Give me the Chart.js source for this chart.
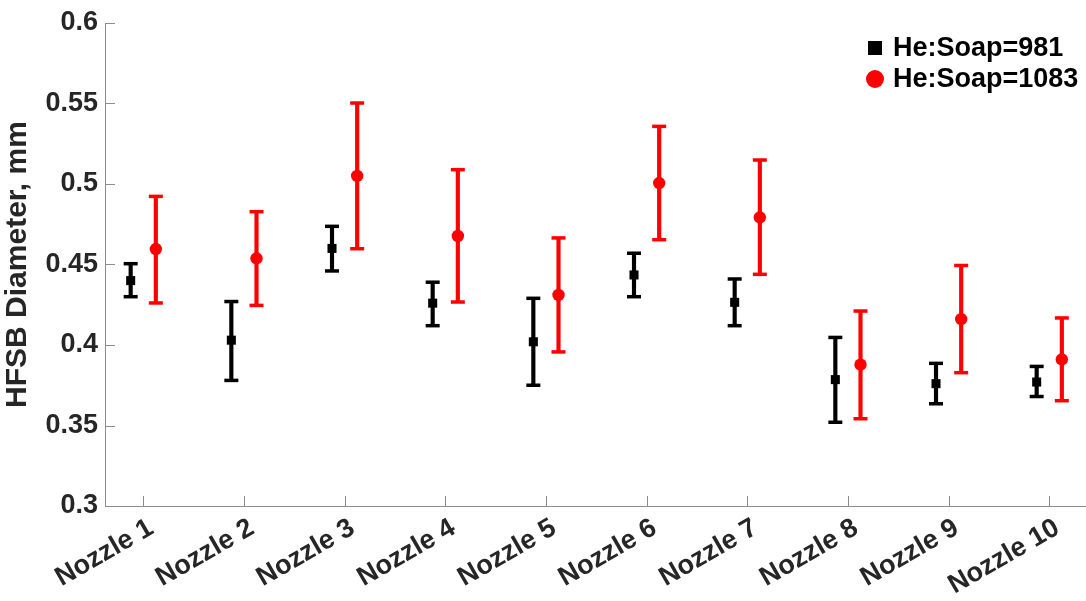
<!DOCTYPE html>
<html>
<head>
<meta charset="utf-8">
<title>HFSB Diameter</title>
<script src="https://cdn.jsdelivr.net/npm/chart.js@4.4.1/dist/chart.umd.min.js"></script>
<style>
  html, body {
    margin: 0;
    padding: 0;
    background: #ffffff;
  }

  .chart-wrap {
    position: relative;
    width: 1086px;
    height: 601px;
  }

  .legend {
    position: absolute;
    left: 863px;
    top: 32px;
    font-family: "Liberation Sans", Arial, sans-serif;
    font-weight: bold;
    font-size: 27px;
    color: #000000;
  }

  .legend-row {
    display: flex;
    align-items: center;
    height: 31px;
  }

  .legend-mark {
    width: 24px;
    margin-right: 6px;
    display: flex;
    justify-content: center;
    align-items: center;
  }

  .mark-square {
    width: 14px;
    height: 14px;
    background: #000000;
  }

  .mark-circle {
    width: 18px;
    height: 18px;
    border-radius: 50%;
    background: #ff0000;
  }
</style>
</head>
<body>

<div class="chart-wrap">
  <canvas id="diameterChart" width="1086" height="601"></canvas>
  <div class="legend">
    <div class="legend-row"><span class="legend-mark"><span class="mark-square"></span></span>He:Soap=981</div>
    <div class="legend-row"><span class="legend-mark"><span class="mark-circle"></span></span>He:Soap=1083</div>
  </div>
</div>

<script>
/* =========================
   DATA
========================= */

const nozzles = [
  "Nozzle 1", "Nozzle 2", "Nozzle 3", "Nozzle 4", "Nozzle 5",
  "Nozzle 6", "Nozzle 7", "Nozzle 8", "Nozzle 9", "Nozzle 10"
];

const yTicks = [0.3, 0.35, 0.4, 0.45, 0.5, 0.55, 0.6];

// He:Soap = 981
const soap981Mean = [0.440, 0.403, 0.460, 0.426, 0.402, 0.4435, 0.4265, 0.3785, 0.376, 0.377];
const soap981Low  = [0.430, 0.378, 0.446, 0.412, 0.375, 0.430, 0.412, 0.352, 0.3635, 0.368];
const soap981High = [0.4505, 0.427, 0.4737, 0.439, 0.429, 0.457, 0.441, 0.4047, 0.3886, 0.3867];

// He:Soap = 1083
const soap1083Mean = [0.4596, 0.4538, 0.505, 0.4677, 0.4311, 0.5006, 0.4793, 0.3878, 0.4161, 0.391];
const soap1083Low  = [0.4261, 0.4246, 0.4598, 0.4267, 0.3957, 0.4654, 0.4439, 0.3542, 0.3828, 0.3654];
const soap1083High = [0.4923, 0.4828, 0.5503, 0.5089, 0.4665, 0.5358, 0.5149, 0.4211, 0.4494, 0.4168];


/* =========================
   HELPERS
========================= */

const GROUP_OFFSET = 0.125;
const FONT = "'Liberation Sans', Arial, sans-serif";
const TEXT_COLOR = "#262626";
const AXIS_COLOR = "#8c8c8c";

function points(values, shift) {
  return values.map((v, i) => ({ x: i + 1 + shift, y: v }));
}

function ranges(low, high, shift) {
  return low.map((lo, i) => ({ x: i + 1 + shift, y: [lo, high[i]] }));
}

function caps(low, high, shift) {
  return points(low, shift).concat(points(high, shift));
}

// MATLAB style ticks pointing into the plot
const innerTicks = {
  id: "innerTicks",
  afterDatasetsDraw(chart) {
    const { ctx, chartArea, scales } = chart;
    ctx.save();
    ctx.strokeStyle = AXIS_COLOR;
    ctx.lineWidth = 1;
    ctx.beginPath();
    scales.x.ticks.forEach(t => {
      const px = Math.round(scales.x.getPixelForValue(t.value)) + 0.5;
      ctx.moveTo(px, chartArea.bottom);
      ctx.lineTo(px, chartArea.bottom - 10);
    });
    scales.y.ticks.forEach(t => {
      const py = Math.round(scales.y.getPixelForValue(t.value)) + 0.5;
      ctx.moveTo(chartArea.left, py);
      ctx.lineTo(chartArea.left + 10, py);
    });
    ctx.stroke();
    ctx.restore();
  }
};


/* =========================
   CHART
========================= */

const ctx = document.getElementById("diameterChart").getContext("2d");

new Chart(ctx, {
  type: "scatter",
  data: {
    datasets: [
      {
        type: "bar",
        label: "err981",
        data: ranges(soap981Low, soap981High, -GROUP_OFFSET),
        backgroundColor: "#000000",
        barThickness: 3.5,
        grouped: false,
        order: 3
      },
      {
        type: "bar",
        label: "err1083",
        data: ranges(soap1083Low, soap1083High, GROUP_OFFSET),
        backgroundColor: "#ff0000",
        barThickness: 3.5,
        grouped: false,
        order: 3
      },
      {
        label: "cap981",
        data: caps(soap981Low, soap981High, -GROUP_OFFSET),
        pointStyle: "line",
        radius: 7,
        hoverRadius: 7,
        borderWidth: 3.5,
        hoverBorderWidth: 3.5,
        borderColor: "#000000",
        order: 2
      },
      {
        label: "cap1083",
        data: caps(soap1083Low, soap1083High, GROUP_OFFSET),
        pointStyle: "line",
        radius: 7,
        hoverRadius: 7,
        borderWidth: 3.5,
        hoverBorderWidth: 3.5,
        borderColor: "#ff0000",
        order: 2
      },
      {
        label: "He:Soap=981",
        data: points(soap981Mean, -GROUP_OFFSET),
        pointStyle: "rect",
        radius: 6.4,
        hoverRadius: 6.4,
        borderWidth: 0,
        backgroundColor: "#000000",
        order: 1
      },
      {
        label: "He:Soap=1083",
        data: points(soap1083Mean, GROUP_OFFSET),
        pointStyle: "circle",
        radius: 6.2,
        hoverRadius: 6.2,
        borderWidth: 0,
        backgroundColor: "#ff0000",
        order: 1
      }
    ]
  },
  options: {
    responsive: false,
    animation: false,
    events: [],
    layout: {
      autoPadding: false,
      padding: { top: 23, right: 0, bottom: 0, left: 0 }
    },
    plugins: {
      legend: { display: false },
      tooltip: { enabled: false }
    },
    scales: {
      x: {
        type: "linear",
        min: 0.62,
        max: 10.365,
        offset: false,
        grid: { display: false, drawTicks: false },
        border: { display: true, color: AXIS_COLOR, width: 1 },
        afterBuildTicks(scale) {
          scale.ticks = nozzles.map((_, i) => ({ value: i + 1 }));
        },
        afterFit(scale) {
          scale.height = 95;
          scale.paddingLeft = 0;
          scale.paddingRight = 0;
        },
        ticks: {
          autoSkip: false,
          minRotation: 30,
          maxRotation: 30,
          padding: 6,
          labelOffset: 8,
          color: TEXT_COLOR,
          font: { family: FONT, size: 27, weight: "bold" },
          callback: (v) => nozzles[Math.round(v) - 1]
        }
      },
      y: {
        type: "linear",
        min: 0.3,
        max: 0.6,
        grid: { display: false, drawTicks: false },
        border: { display: true, color: AXIS_COLOR, width: 1 },
        afterBuildTicks(scale) {
          scale.ticks = yTicks.map(v => ({ value: v }));
        },
        afterFit(scale) {
          scale.width = 105;
          scale.paddingTop = 0;
          scale.paddingBottom = 0;
        },
        title: {
          display: true,
          text: "HFSB Diameter, mm",
          color: TEXT_COLOR,
          font: { family: FONT, size: 30, weight: "bold" },
          padding: { top: 0, bottom: 0 }
        },
        ticks: {
          padding: 7,
          color: TEXT_COLOR,
          font: { family: FONT, size: 27, weight: "bold" },
          callback: (v) => String(+v.toFixed(2))
        }
      }
    }
  },
  plugins: [innerTicks]
});
</script>
</body>
</html>
